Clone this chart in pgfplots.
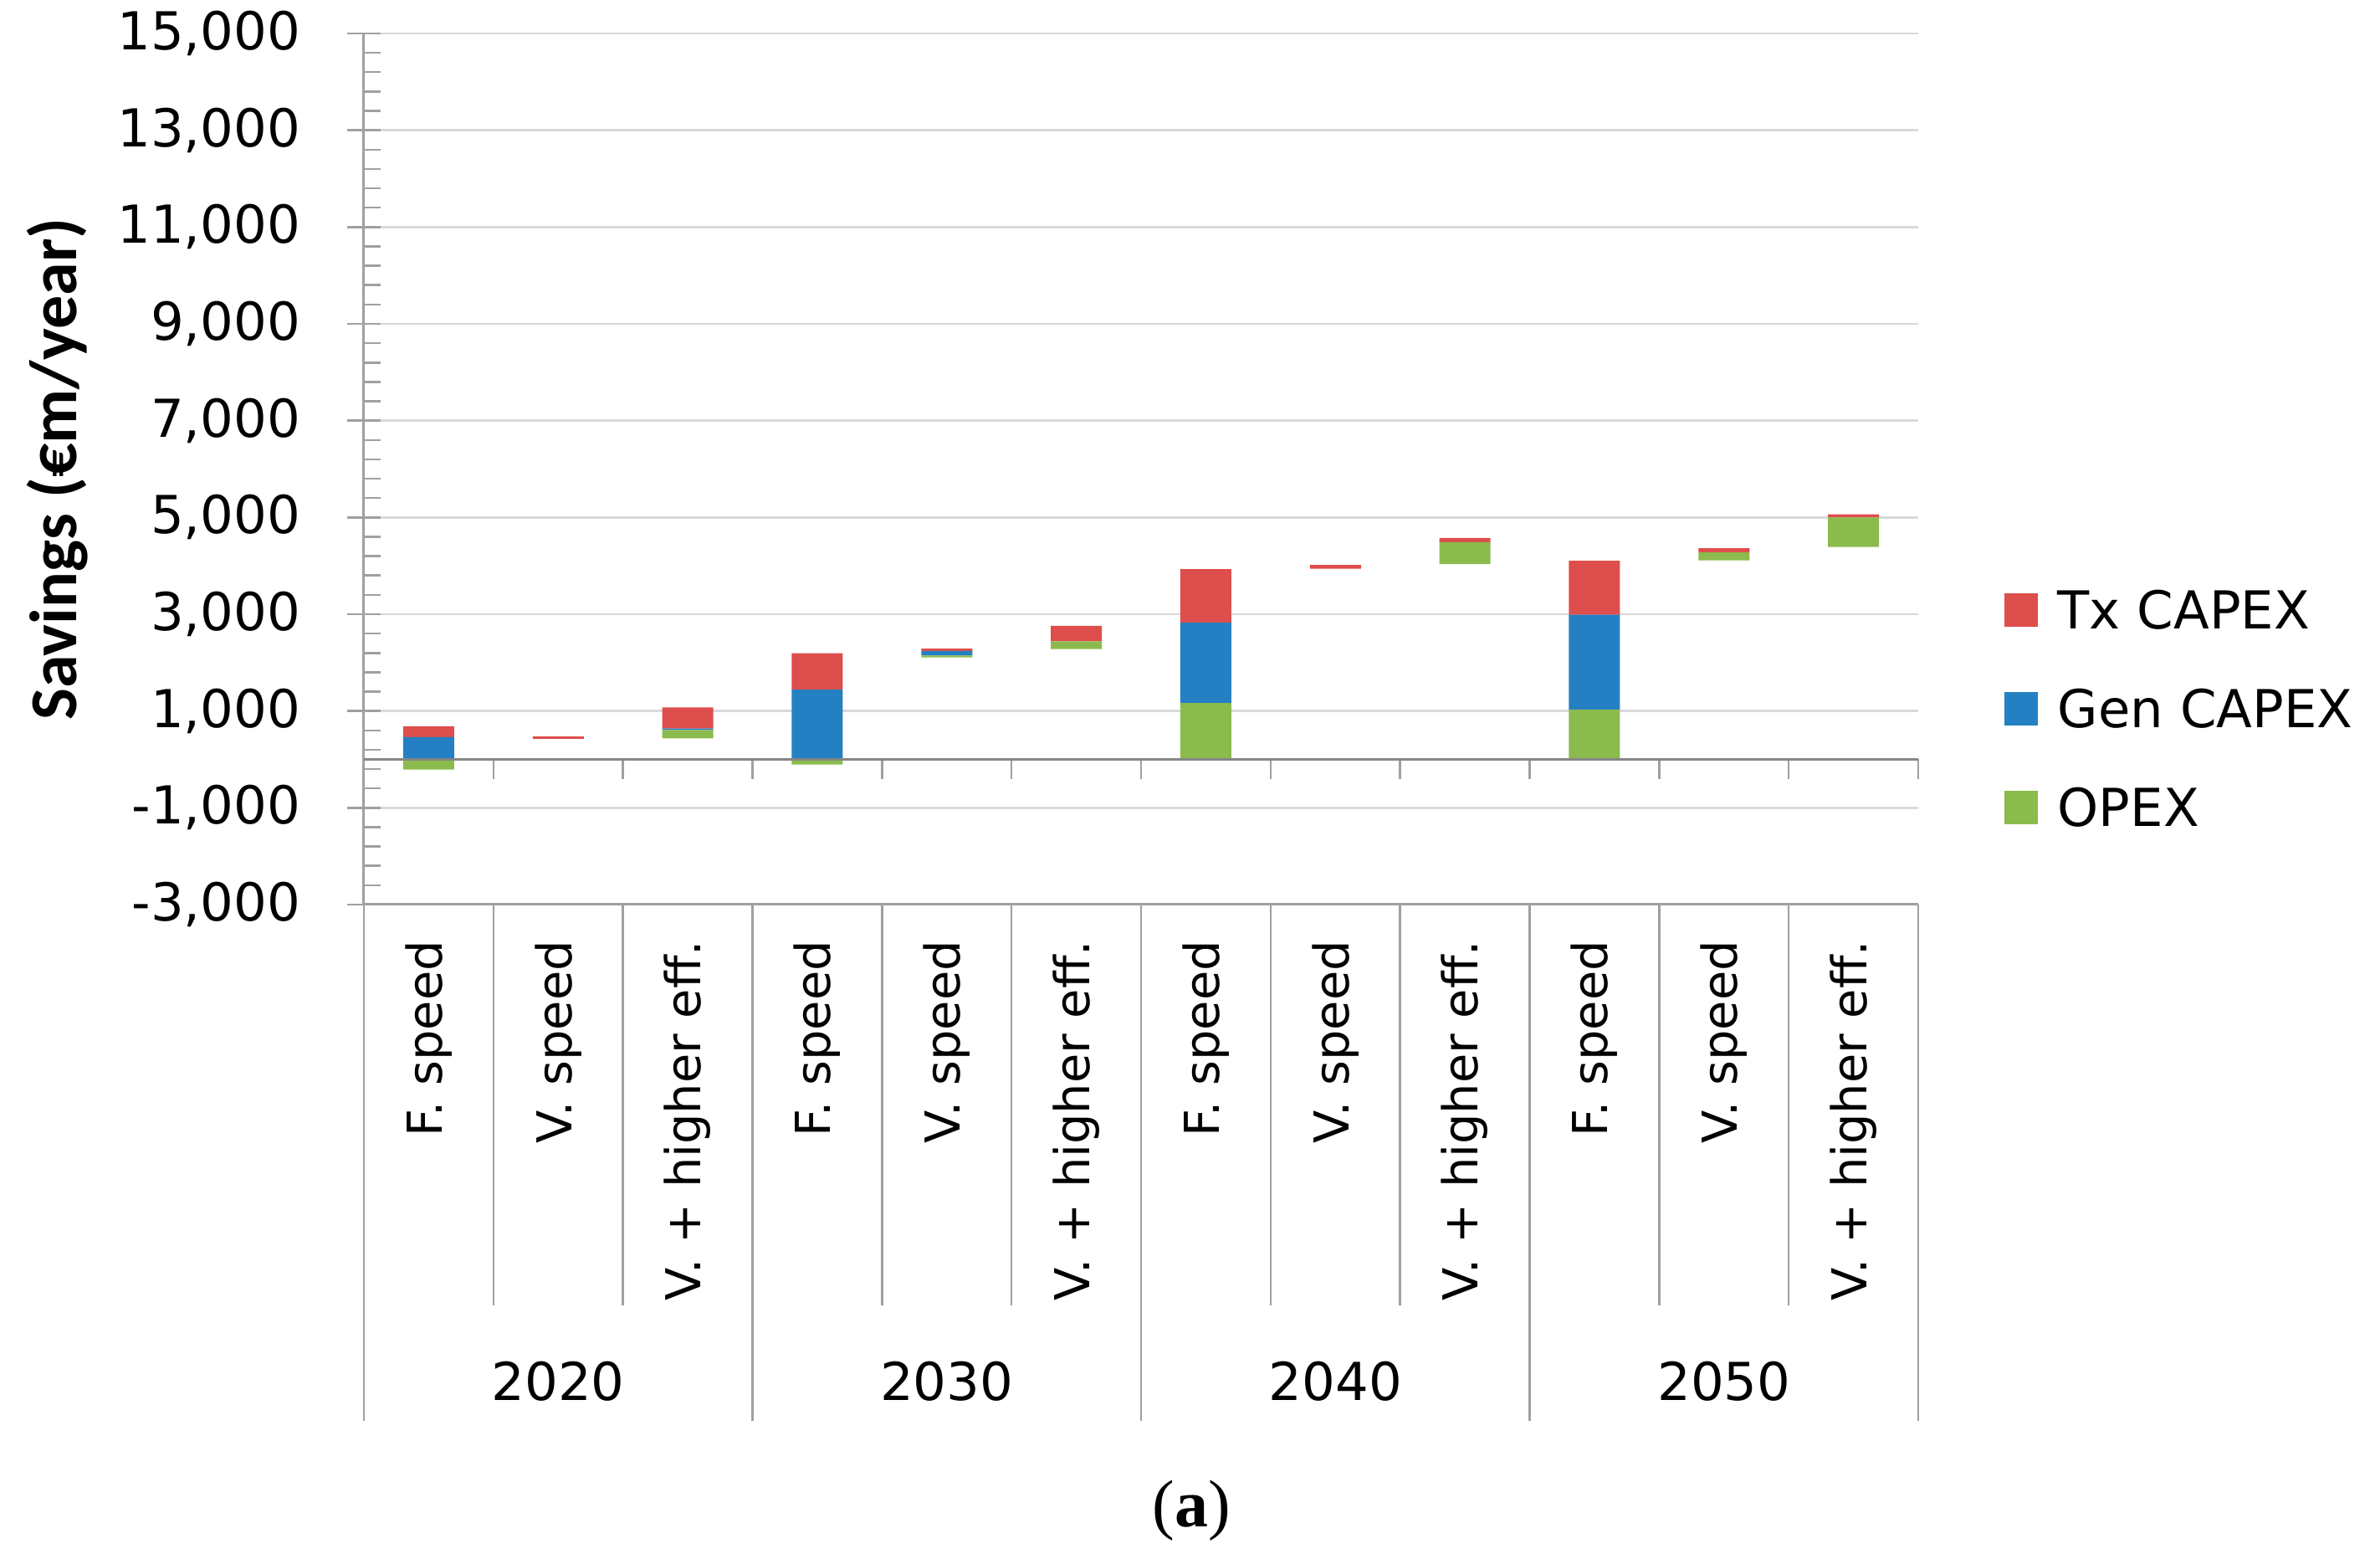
\documentclass[border=0pt]{standalone}
\usepackage{fontspec}
\setmainfont{DejaVu Sans}
\newfontfamily\labelfont{Carlito}
\newfontfamily\captfont{Liberation Serif}
\usepackage{pgfplots}
\pgfplotsset{compat=1.18}
\usepackage{pgfplotstable}

\definecolor{txred}{RGB}{221,78,76}
\definecolor{genblue}{RGB}{36,128,194}
\definecolor{opgreen}{RGB}{139,187,77}
\definecolor{gridgray}{RGB}{217,217,217}
\definecolor{axisgray}{RGB}{160,160,160}
\definecolor{zerogray}{RGB}{134,134,134}

% base = invisible offset, then OPEX, Gen CAPEX, Tx CAPEX heights
\pgfplotstableread{
x  base  opex  gen   tx
0  -210  210   460   225
1  427   0     0     47
2  433   175   29    439
3  -106  106   1441  753
4  2106  41    94    47
5  2282  159   0     318
6  0     1164  1660  1107
7  3942  0     0     75
8  4035  455   0     86
9  0     1032  1959  1113
10 4115  162   0     86
11 4390  610   0     63
}\savings

\begin{document}
\begin{tikzpicture}
\path (-87pt,-157.6pt) rectangle (482pt,216.2pt);
\begin{axis}[
  name=ax, at={(0,0)}, anchor=south west,
  scale only axis, width=371.6pt, height=208.2pt,
  ybar stacked, stack negative=on previous, bar width=12.2pt,
  xmin=-0.5, xmax=11.5, ymin=-3000, ymax=15000,
  clip=false,
  axis x line*=bottom, axis y line*=left,
  axis line style={draw=axisgray, line width=0.6pt},
  xtick={0,...,11},
  xticklabels={F. speed, V. speed, V. + higher eff., F. speed, V. speed, V. + higher eff.,
    F. speed, V. speed, V. + higher eff., F. speed, V. speed, V. + higher eff.},
  xtick style={draw=none},
  tick label style={font=\fontsize{12.5}{15}\selectfont},
  xticklabel style={rotate=90, anchor=east, inner sep=0pt, font=\fontsize{11.5}{13}\selectfont},
  xticklabel shift=4.4pt,
  scaled y ticks=false,
  ytick={-3000,-1000,...,15000},
  yticklabels={{-3,000},{-1,000},{1,000},{3,000},{5,000},{7,000},{9,000},{11,000},{13,000},{15,000}},
  yticklabel style={anchor=east, inner sep=0pt, xshift=-11pt},
  minor y tick num=4,
  ytick style={draw=axisgray, line width=0.5pt},
  tick align=center, major tick length=8pt, minor tick length=4pt,
  minor tick style={xshift=2pt},
  ymajorgrids, major grid style={draw=gridgray, line width=0.5pt},
  legend image code/.code={\fill[#1] (0pt,-4pt) rectangle (8pt,4pt);},
  reverse legend,
  legend cell align=left,
  legend style={at={(rel axis cs:1.055,0.2248)}, anchor=west, draw=none, fill=none,
    inner sep=0pt, row sep=14.6pt, column sep=4.7pt,
    font=\fontsize{12.5}{15}\selectfont,
    nodes={inner sep=0pt, text height=9pt, text depth=0pt}},
]
\draw[zerogray, line width=0.7pt] (axis cs:-0.5,0) -- (axis cs:11.5,0);
\pgfplotsinvokeforeach{0.5,1.5,...,11.5}{\draw[axisgray, line width=0.5pt] (axis cs:#1,0) -- ([yshift=-4.8pt]axis cs:#1,0);}
\addplot[fill=none, draw=none, forget plot] table[x=x, y=base]{\savings};
\addplot[fill=opgreen, draw=none] table[x=x, y=opex]{\savings};
\addlegendentry{OPEX}
\addplot[fill=genblue, draw=none] table[x=x, y=gen]{\savings};
\addlegendentry{Gen CAPEX}
\addplot[fill=txred, draw=none] table[x=x, y=tx]{\savings};
\addlegendentry{Tx CAPEX}
\end{axis}
\foreach \i in {1,2,4,5,7,8,10,11} \draw[axisgray, line width=0.5pt] (\i*30.967pt,0) -- ++(0,-95.8pt);
\foreach \i in {0,3,6,9,12} \draw[axisgray, line width=0.5pt] (\i*30.967pt,0) -- ++(0,-123.4pt);
\foreach \i/\yr in {1/2020,4/2030,7/2040,10/2050}
  \node[font=\fontsize{12.5}{15}\selectfont] at ({(\i+0.5)*30.967pt},-114pt) {\yr};
\node[rotate=90, font=\labelfont\bfseries\fontsize{16}{19}\selectfont] at (-73.2pt,104.1pt) {Savings (€m/year)};
\node[font=\captfont\fontsize{16}{19}\selectfont] at (197.8pt,-144.8pt) {(\textbf{a})};
\end{tikzpicture}
\end{document}
